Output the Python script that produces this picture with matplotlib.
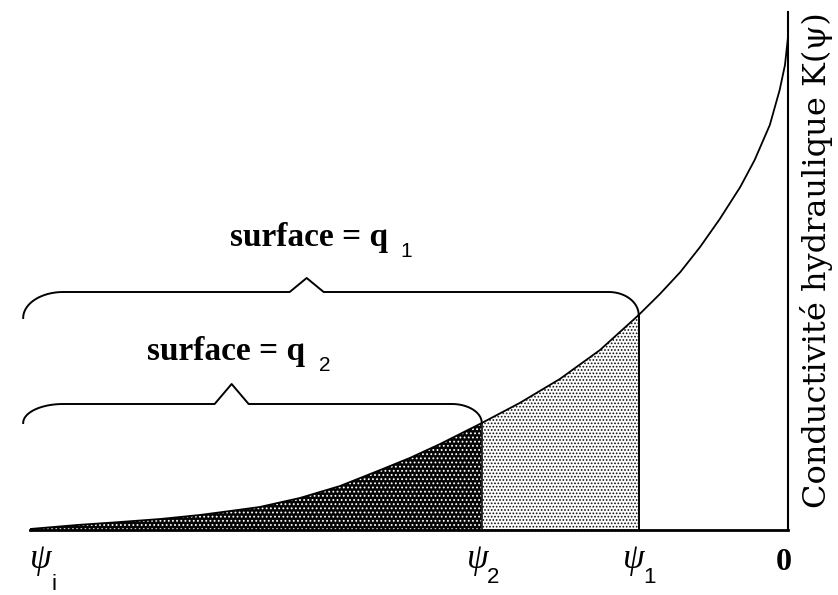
import numpy as np
import matplotlib
matplotlib.use("Agg")
import matplotlib.pyplot as plt

# ---- data (psi in arbitrary units, K in arbitrary units) ----
psi = [-100, -93.8, -88.1, -82.8, -77.6, -73.6, -69.7, -64.4, -59.1, -53.8,
       -49.9, -45.9, -40.4, -35.4, -30.1, -24.8, -19.7, -16.9, -14.2, -11.6,
       -9.0, -6.3, -4.4, -2.4, -1.1, -0.4, 0]
K = [1, 5, 8, 11, 15, 19, 23, 32, 44, 60,
     72, 86, 107, 127, 151, 180, 215, 236, 258, 283,
     311, 343, 370, 405, 440, 465, 493]
psi_2 = -40.4
psi_1 = -19.7
K_2 = 107
K_1 = 215

axis_label = "Conductivité hydraulique K(ψ)"
q1_text, q1_sub = "surface = q", "1"
q2_text, q2_sub = "surface = q", "2"
tick_labels = [("ψ", "i"), ("ψ", "2"), ("ψ", "1"), ("0", "")]

W, H = 838, 595
plt.rcParams["hatch.linewidth"] = 0.8
fig = plt.figure(figsize=(W / 100, H / 100), dpi=100)
fig.patch.set_facecolor("white")


def fx(px):
    return px / W


def fy(py):
    return 1 - py / H


ax = fig.add_axes([fx(30), (H - 530) / H, 758 / W, 518 / H])
ax.set_xlim(-100, 0)
ax.set_ylim(0, 518)
ax.set_facecolor("none")
for s in ["top", "left"]:
    ax.spines[s].set_visible(False)
ax.spines["bottom"].set_linewidth(2.0)
ax.spines["right"].set_linewidth(1.5)
ax.set_xticks([])
ax.set_yticks([])

psi_a = np.array(psi)
K_a = np.array(K)
m2 = psi_a <= psi_2
m1 = (psi_a >= psi_2) & (psi_a <= psi_1)

ax.fill_between(psi_a[m2], 0, K_a[m2], facecolor="#050505", edgecolor="white",
                hatch="....", linewidth=0, zorder=1)
ax.fill_between(psi_a[m1], 0, K_a[m1], facecolor="white", edgecolor="#111111",
                hatch=".....", linewidth=0, zorder=1)

ax.plot(psi_a, K_a, color="black", lw=1.3, zorder=3, solid_joinstyle="round")
ax.vlines([psi_2], 0, K_2, color="#111111", lw=1.2, zorder=3)
ax.vlines([psi_1], 0, K_1, color="black", lw=1.4, zorder=3)

# ---- braces ----
UX = 7.58  # pixels per psi unit


def brace(x_left, y_left, x_right, y_right, y_line, x_peak, peak_h):
    a_l = 40 / UX
    t = np.linspace(0, np.pi / 2, 30)
    lx = x_left + a_l - a_l * np.cos(t)
    ly = y_left + (y_line - y_left) * np.sin(t)
    w = 17 / UX
    px = [x_left + a_l, x_peak - w, x_peak, x_peak + w]
    py = [y_line, y_line, y_line + peak_h, y_line]
    a_r = 30 / UX
    rx = (x_right - a_r) + a_r * np.sin(t)
    ry = y_right + (y_line - y_right) * np.cos(t)
    xs = np.concatenate([lx, px, rx])
    ys = np.concatenate([ly, py, ry])
    ax.plot(xs, ys, color="black", lw=1.4, clip_on=False, zorder=4)


brace(-100.9, 212, psi_1, K_1, 238, -63.5, 14)
brace(-100.9, 107, psi_2, K_2, 126, -73.4, 20)

# ---- texts ----
serif = ["Liberation Serif", "DejaVu Serif"]
sans = ["Liberation Sans", "DejaVu Sans"]
fig.text(fx(230), fy(246), q1_text, fontsize=24, fontweight="bold", family=serif,
         ha="left", va="baseline")
fig.text(fx(400), fy(257), q1_sub, fontsize=15, family=sans, ha="left", va="baseline")
fig.text(fx(147), fy(360), q2_text, fontsize=24, fontweight="bold", family=serif,
         ha="left", va="baseline")
fig.text(fx(319), fy(371), q2_sub, fontsize=15, family=sans, ha="left", va="baseline")

tick_pos = [(41, 54), (478, 493), (634, 649), (784, None)]
for (main, sub), (xm, xs) in zip(tick_labels, tick_pos):
    if sub:
        fig.text(fx(xm), fy(568), main, fontsize=25, family=serif, style="italic",
                 ha="center", va="baseline")
        fig.text(fx(xs), fy(583 if sub != "i" else 590), sub, fontsize=16, family=sans,
                 ha="center", va="baseline")
    else:
        fig.text(fx(xm), fy(570), main, fontsize=23, fontweight="bold", family=serif,
                 ha="center", va="baseline")

fig.text(fx(816), fy(260), axis_label, fontsize=23, family=["DejaVu Serif"],
         rotation=90, ha="center", va="center")

fig.savefig("out.png", dpi=100, facecolor="white")
